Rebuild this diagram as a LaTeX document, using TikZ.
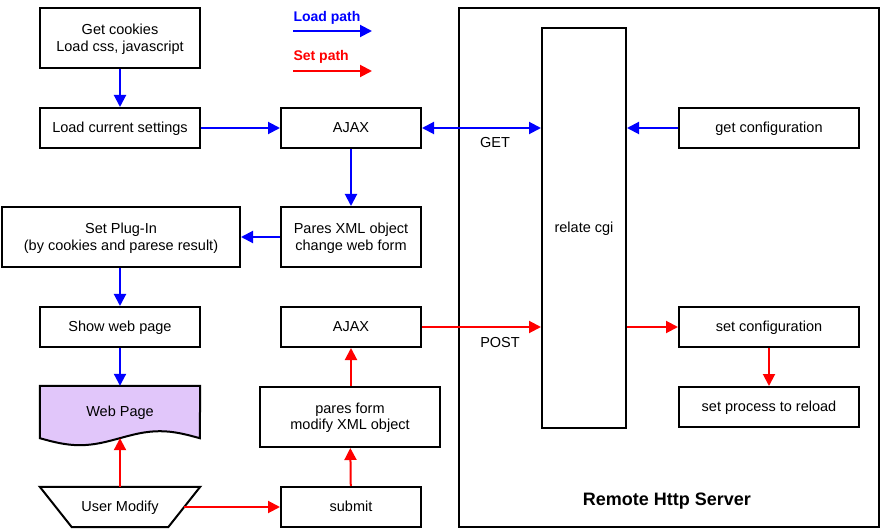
\documentclass[tikz,border=0pt]{standalone}
\usepackage{fontspec}
\setmainfont{Liberation Sans}
\usepackage{tikz}
\usetikzlibrary{shapes.geometric,arrows.meta,positioning,calc,backgrounds}
\definecolor{pathLoad}{HTML}{0000FF}
\definecolor{pathSet}{HTML}{FF0000}
\definecolor{pageFill}{HTML}{E1C6FA}

\begin{document}
\begin{tikzpicture}[x=1pt,y=-1pt,
  font=\fontsize{14.5}{16.5}\selectfont,>={Triangle[length=12pt,width=12pt]},
  box/.style={draw=black,line width=2pt,fill=white,align=center,inner sep=2pt,text depth=1pt},
  loadflow/.style={->,pathLoad,line width=2pt},
  setflow/.style={->,pathSet,line width=2pt},
  legend/.style={font=\fontsize{14}{16}\selectfont\bfseries,anchor=west}
]
\useasboundingbox (0,0) rectangle (881,529);
\node[draw=black,line width=2pt,minimum width=420pt,minimum height=519pt] (server) at (669,267.5) {};
\node[font=\fontsize{18}{20}\selectfont\bfseries] (srvtitle) at (667,501) {Remote Http Server};

\node[box,minimum width=160pt,minimum height=60pt] (cookies) at (120,38)  {Get cookies\\Load css, javascript};
\node[box,minimum width=160pt,minimum height=40pt] (load)    at (120,128) {Load current settings};
\node[box,minimum width=140pt,minimum height=40pt] (ajaxA)   at (351,128) {AJAX};
\node[box,minimum width=140pt,minimum height=60pt] (parse)   at (351,237) {Pares XML object\\change web form};
\node[box,minimum width=238pt,minimum height=60pt] (plugin)  at (121,237) {Set Plug-In\\(by cookies and parese result)};
\node[box,minimum width=160pt,minimum height=40pt] (show)    at (120,327) {Show web page};
\node[minimum width=160pt,minimum height=52pt,text depth=1pt] (webpage) at (120,412) {Web Page};
\node[minimum width=160pt,minimum height=40pt,text depth=1pt] (usermod) at (120,507) {User Modify};
\node[box,minimum width=140pt,minimum height=40pt] (submit)  at (351,507) {submit};
\node[box,minimum width=180pt,minimum height=60pt] (form)    at (350,417) {pares form\\modify XML object};
\node[box,minimum width=140pt,minimum height=40pt] (ajaxB)   at (351,327) {AJAX};

\node[box,minimum width=84pt,minimum height=400pt]  (cgi)    at (584,228) {relate cgi};
\node[box,minimum width=180pt,minimum height=40pt] (getcfg)  at (769,128) {get configuration};
\node[box,minimum width=180pt,minimum height=40pt] (setcfg)  at (769,327) {set configuration};
\node[box,minimum width=180pt,minimum height=40pt] (reload)  at (769,407) {set process to reload};

\begin{scope}[on background layer]
\draw[line width=2pt,fill=pageFill] (webpage.south west) sin +(40,7) cos +(40,-7) sin +(40,-7) cos +(40,7)
      -- (webpage.north east) -- (webpage.north west) -- cycle;
\draw[line width=2pt,fill=white] (usermod.north west) -- (usermod.north east)
      -- ($(usermod.south east)+(-32,0)$) -- ($(usermod.south west)+(32,0)$) -- cycle;
\end{scope}
\coordinate (slant) at ($(usermod.east)+(-16,0)$);

\node[legend,text=pathLoad] (loadlbl) at (290,18) {Load path};
\coordinate (loadA) at (293,31);
\coordinate (loadB) at (372,31);
\draw[loadflow] (loadA) -- (loadB);
\node[legend,text=pathSet] (setlbl) at (290,57) {Set path};
\coordinate (setA) at (293,71);
\coordinate (setB) at (372,71);
\draw[setflow] (setA) -- (setB);

\node (getlbl)  at (495,143) {GET};
\node (postlbl) at (500,343) {POST};

\draw[loadflow] (cookies) -- (load);
\draw[loadflow] (load) -- (ajaxA);
\draw[loadflow,<->] (ajaxA.east) -- (ajaxA -| cgi.west);
\draw[loadflow] (getcfg.west) -- (getcfg -| cgi.east);
\draw[loadflow] (ajaxA) -- (parse);
\draw[loadflow] (parse) -- (plugin);
\draw[loadflow] (plugin.south -| show) -- (show);
\draw[loadflow] (show) -- (webpage);

\draw[setflow] (usermod) -- (webpage.south);
\draw[setflow] (slant) -- (submit);
\draw[setflow] (submit) -- (form);
\draw[setflow] (form.north -| ajaxB) -- (ajaxB);
\draw[setflow] (ajaxB.east) -- (ajaxB -| cgi.west);
\draw[setflow] (setcfg -| cgi.east) -- (setcfg.west);
\draw[setflow] (setcfg) -- (reload);
\end{tikzpicture}
\end{document}
